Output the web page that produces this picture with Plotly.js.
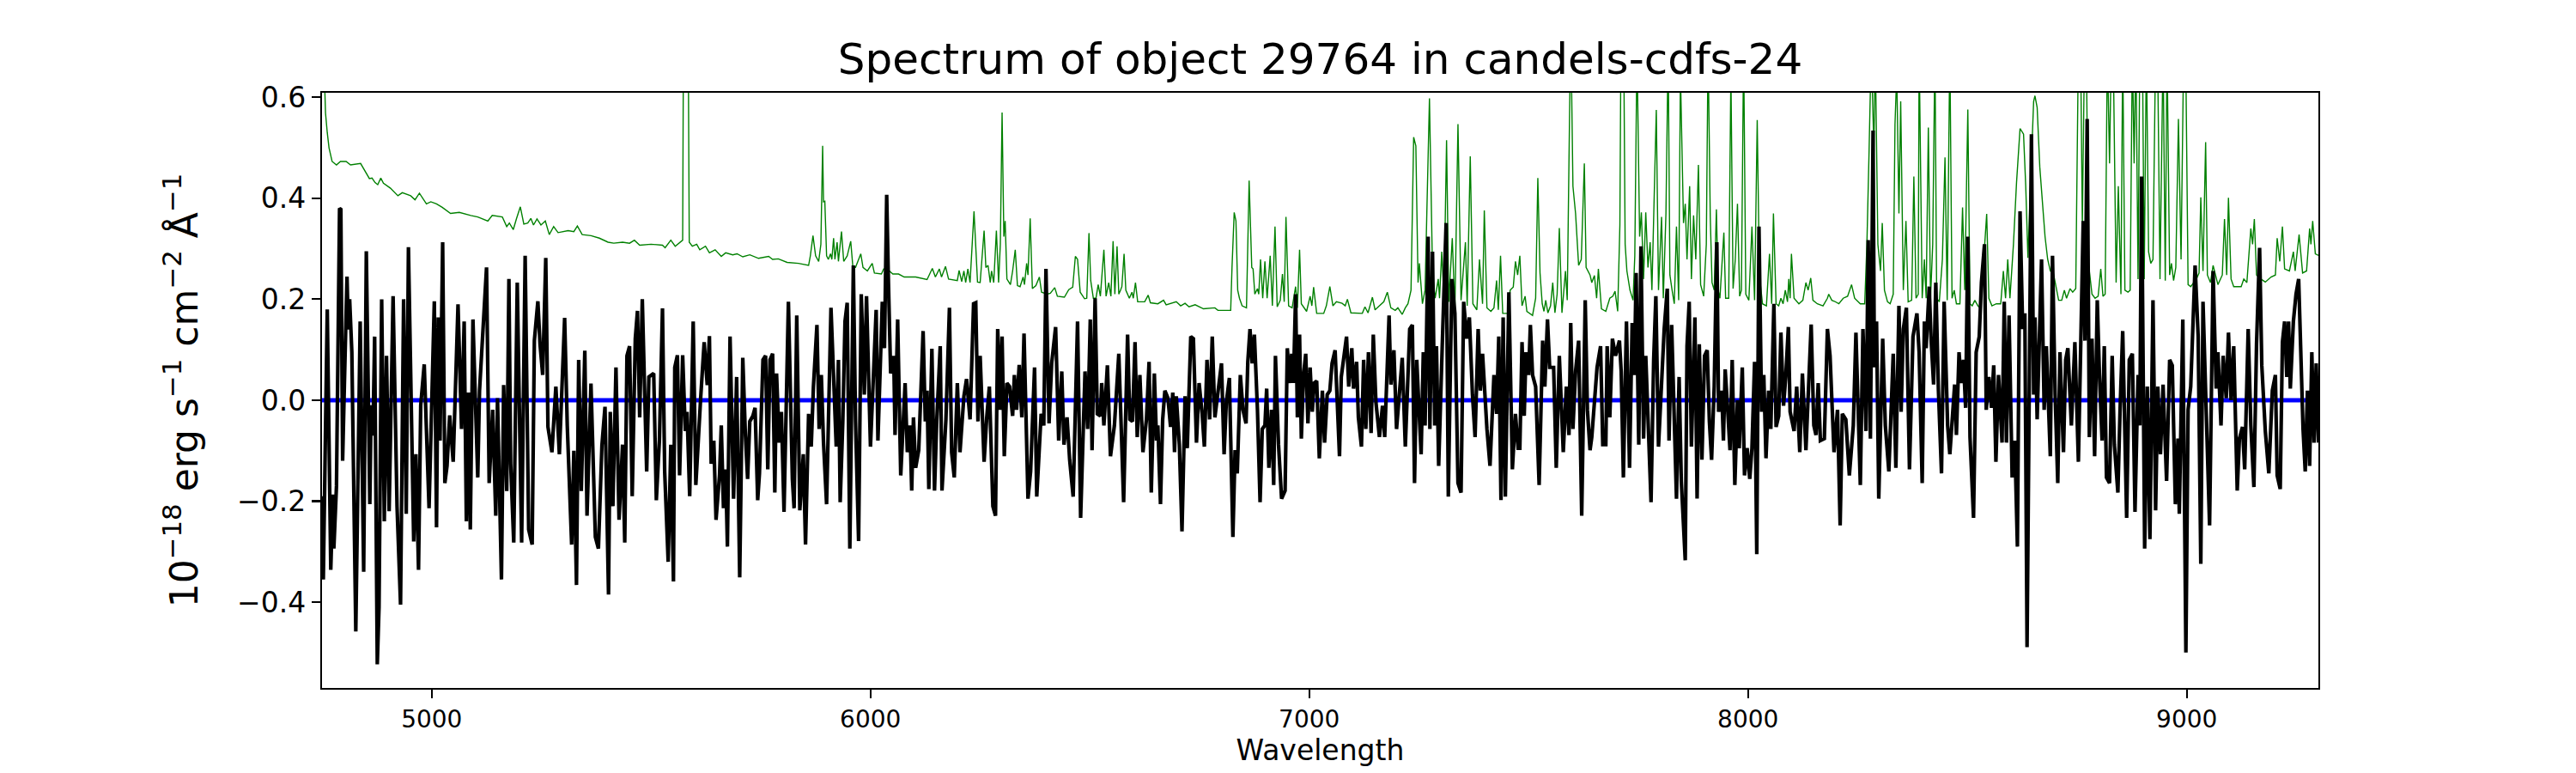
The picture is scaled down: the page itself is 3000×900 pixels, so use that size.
<!DOCTYPE html>
<html>
<head>
<meta charset="utf-8">
<script src="https://cdn.plot.ly/plotly-3.0.1.min.js"></script>
<style>html,body{margin:0;padding:0;background:#fff;}#chart{width:3000px;height:900px;}</style>
</head>
<body>
<div id="chart"></div>
<script>
// Observed spectrum (black): wavelength [Angstrom] and flux [1e-18 erg/s/cm2/A]
const fluxWave = [
4750,4753,4762,4770,4775,4777,4783,4790,4793,4797,4801,4807,4810,4813,4818,4827,4837,4845,4851,4859,4862,4866,4870,4876,4880,4886,4892,4897,4903,4912,4921,4929,4936,4942,4947,4953,4959,4964,4970,4975,4983,4994,5006,5011,5015,5019,5025,5030,5035,5041,5049,5060,5068,5074,5079,5084,5088,5094,5105,5109,5115,5125,5131,5139,5146,5150,5159,5164,5171,5176,5180,5187,5195,5205,5213,5221,5229,5234,5242,5247,5253,5260,5265,5274,5283,5291,5303,5309,5319,5324,5330,5335,5341,5349,5354,5363,5373,5380,5388,5395,5403,5407,5413,5420,5427,5435,5440,5445,5451,5457,5464,5469,5474,5480,5490,5495,5506,5512,5519,5526,5531,5539,5545,5551,5554,5560,5565,5572,5578,5582,5588,5596,5602,5607,5613,5621,5628,5633,5637,5643,5648,5656,
5660,5665,5670,5674,5680,5688,5695,5702,5709,5715,5720,5725,5732,5737,5743,5747,5755,5761,5766,5771,5777,5782,5786,5792,5797,5803,5813,5822,5826,5832,5839,5847,5852,5859,5865,5870,5878,5883,5888,5893,5900,5910,5922,5927,5931,5937,5942,5947,5953,5961,5966,5973,5979,5986,5991,6000,6006,6013,6017,6022,6027,6032,6037,6041,6046,6053,6056,6062,6069,6079,6084,6090,6094,6098,6103,6110,6120,6125,6129,6133,6140,6146,6151,6159,6163,6172,6180,6185,6191,6198,6204,6213,6219,6227,6235,6240,6245,6250,6259,6265,6271,6279,6285,6290,6296,6300,6305,6311,6317,6324,6328,6333,6339,6345,6350,6359,6365,6374,6379,6389,6395,6400,6407,6413,6422,6429,6436,6441,6448,6454,6462,6472,6479,6489,6495,6501,6505,6512,6517,6524,6527,6532,6540,6547,6556,6566,
6577,6586,6591,6597,6603,6608,6614,6621,6629,6635,6640,6647,6652,6655,6661,6666,6671,6678,6684,6689,6693,6697,6704,6710,6717,6722,6730,6736,6743,6749,6756,6761,6767,6773,6779,6785,6792,6800,6806,6811,6818,6826,6831,6836,6843,6849,6856,6860,6865,6870,6875,6882,6888,6893,6899,6903,6908,6914,6919,6923,6930,6937,6945,6950,6956,6960,6964,6969,6973,6978,6982,6987,6992,6997,7002,7007,7011,7017,7023,7030,7035,7041,7047,7052,7059,7064,7069,7073,7080,7085,7090,7097,7101,7108,7112,7119,7124,7129,7135,7141,7146,7152,7160,7167,7172,7182,7186,7193,7199,7206,7212,7219,7229,7235,7240,7245,7255,7260,7264,7271,7275,7281,7286,7290,7295,7303,7312,7317,7325,7332,7339,7346,7352,7359,7365,7372,7378,7385,7390,7395,7405,7412,7421,7427,7432,7437,7442,7447,7455,7463,7470,7476,
7480,7485,7490,7494,7500,7504,7509,7516,7524,7532,7537,7543,7548,7557,7563,7570,7575,7579,7586,7592,7596,7601,7607,7614,7621,7629,7634,7640,7644,7650,7656,7664,7669,7676,7679,7685,7691,7698,7707,7711,7716,7723,7730,7736,7741,7745,7751,7756,7762,7767,7772,7779,7785,7790,7796,7803,7809,7816,7820,7826,7830,7837,7843,7848,7857,7861,7866,7871,7879,7884,7889,7895,7901,7907,7912,7917,7923,7929,7933,7940,7944,7948,7954,7959,7964,7970,7976,7980,7987,7992,7998,8004,8009,8015,8020,8025,8031,8036,8041,8047,8052,8059,8064,8070,8075,8081,8086,8092,8096,8105,8111,8118,8124,8132,8139,8144,8150,8155,8160,8165,8174,8181,8187,8196,8204,8210,8215,8223,8231,8240,8246,8256,8262,8269,8274,8279,8285,8288,8293,8298,8307,8313,8321,8331,8337,8344,8349,8354,8361,8368,8376,8385,
8390,8397,8402,8406,8413,8417,8423,8428,8434,8441,8447,8455,8460,8465,8471,8475,8481,8486,8491,8496,8501,8506,8514,8520,8527,8532,8539,8543,8549,8555,8560,8565,8571,8579,8584,8589,8595,8602,8608,8614,8620,8626,8631,8636,8641,8646,8651,8654,8659,8664,8669,8675,8680,8689,8694,8700,8706,8711,8719,8724,8729,8737,8745,8753,8758,8764,8768,8773,8778,8784,8790,8796,8801,8807,8812,8817,8824,8830,8835,8843,8848,8854,8863,8869,8876,8882,8889,8893,8897,8904,8910,8916,8923,8929,8934,8940,8946,8954,8961,8967,8974,8980,8983,8991,8998,9003,9009,9019,9026,9032,9037,9045,9052,9060,9067,9071,9078,9083,9090,9095,9101,9107,9115,9120,9127,9132,9140,9146,9153,9159,9166,9171,9179,9187,9195,9202,9206,9213,9218,9223,9228,9232,9236,9243,9249,9255,9260,9265,9270,9275,9280,9285,9290,9295,9300
];
const fluxValue = [
-0.19,-0.355,0.18,-0.336,-0.187,-0.294,-0.17,0.38,0.378,-0.12,0.03,0.245,0.14,0.2,0.095,-0.458,0.156,-0.34,0.295,-0.206,-0.01,-0.07,0.126,-0.523,-0.41,0.2,-0.24,0.088,-0.22,0.206,-0.21,-0.405,0.2,-0.225,0.303,0.05,-0.28,-0.107,-0.336,-0.01,0.071,-0.214,0.196,-0.252,0.164,-0.08,0.313,-0.164,-0.13,-0.03,-0.122,0.19,-0.057,0.156,-0.24,0.015,-0.256,0.16,-0.153,0.019,0.103,0.263,-0.164,-0.019,-0.229,0.004,-0.355,0.03,-0.18,0.24,-0.126,-0.282,0.233,-0.282,0.286,-0.256,-0.286,0.118,0.196,0.11,0.05,0.282,-0.053,-0.103,0.027,-0.107,0.163,-0.05,-0.286,-0.1,-0.366,0.08,-0.18,0.098,-0.229,0.033,-0.271,-0.294,-0.089,-0.013,-0.385,-0.023,-0.21,0.065,-0.237,-0.088,-0.282,0.088,0.107,-0.19,0.122,0.177,-0.034,0.2,-0.141,0.046,0.053,-0.198,-0.08,0.182,-0.141,-0.32,-0.088,-0.359,0.065,0.089,-0.149,0.089,-0.061,-0.023,-0.19,0.156,-0.168,-0.076,0.004,0.115,0.03,0.127,-0.126,-0.08,-0.237,-0.149,
-0.05,-0.214,-0.137,-0.29,0.126,-0.195,0.046,-0.351,0.084,-0.069,-0.156,-0.042,-0.031,-0.015,-0.198,-0.145,0.08,0.088,-0.137,0.08,0.092,-0.183,0.053,-0.084,-0.023,-0.221,0.195,-0.156,-0.214,0.168,-0.218,-0.107,-0.286,-0.027,-0.092,0.027,0.149,-0.057,0.05,-0.084,-0.206,0.183,-0.092,0.08,-0.202,-0.042,0.156,0.193,-0.294,0.267,-0.042,-0.279,0.21,0.011,0.206,-0.092,0.038,0.179,-0.08,0.057,0.195,0.103,0.407,0.233,0.053,0.088,-0.069,0.16,-0.149,0.034,-0.103,-0.05,-0.179,-0.034,-0.134,-0.099,0.137,-0.042,0.019,-0.176,0.102,-0.179,-0.042,0.107,-0.179,-0.038,0.183,-0.103,-0.153,0.034,-0.103,0.008,0.042,-0.038,0.191,0.193,-0.042,0.088,-0.122,-0.034,0.027,-0.21,-0.229,0.141,-0.019,0.126,-0.111,0.034,0.027,-0.031,0.05,-0.019,0.07,-0.034,0.132,-0.195,-0.141,0.065,-0.191,-0.027,-0.05,0.26,-0.046,0.073,0.145,-0.08,0.057,-0.088,-0.034,-0.118,-0.191,0.156,-0.233,0.057,-0.057,0.16,-0.099,0.202,-0.027,-0.031,0.034,-0.05,0.069,-0.111,-0.05,0.092,
-0.202,0.13,-0.038,-0.042,0.115,-0.073,0.05,-0.103,-0.038,0.076,-0.183,0.053,-0.08,-0.05,-0.206,-0.038,0.019,0.004,-0.053,0.015,-0.103,0.008,-0.088,-0.26,0.008,-0.095,0.126,0.122,-0.084,0.034,-0.027,-0.092,0.08,-0.038,0.126,-0.034,0.011,0.073,-0.107,-0.004,0.044,-0.271,-0.099,-0.145,0.05,-0.019,-0.046,0.076,0.141,0.073,0.13,-0.019,-0.202,-0.057,-0.05,0.023,-0.134,-0.019,-0.168,0.088,-0.088,-0.195,-0.179,0.103,0.034,0.092,0.034,0.21,-0.034,0.13,-0.076,0.05,0.092,-0.046,0.065,-0.023,0.034,0.038,-0.115,0.019,-0.084,0.011,0.019,0.073,0.099,-0.015,-0.111,0.046,0.088,0.126,0.027,0.103,0.023,0.076,-0.034,-0.092,0.08,-0.057,0.095,-0.065,0.13,-0.004,-0.073,-0.011,-0.073,0.168,0.031,0.099,-0.057,0.019,0.084,-0.092,0.141,0.149,-0.164,0.08,-0.107,0.095,-0.05,0.324,-0.057,0.294,-0.05,0.107,-0.13,0.103,0.351,-0.191,0.24,0.172,-0.164,-0.183,0.195,0.122,0.164,0.011,-0.073,0.141,0.019,0.092,-0.057,-0.13,0.05,-0.027,0.126,-0.198,0.164,-0.191,0.214,-0.137,-0.027,-0.095,
-0.095,0.115,-0.031,0.095,0.05,0.149,0.05,0.027,-0.168,0.118,0.027,0.16,0.065,0.065,-0.134,0.088,-0.042,-0.103,0.027,-0.069,0.153,-0.057,0.057,0.118,-0.229,0.198,-0.019,-0.099,-0.073,0.004,0.065,0.107,-0.088,-0.088,0.107,-0.034,0.122,0.088,0.118,0.057,-0.153,0.156,-0.134,0.153,0.05,0.252,-0.088,0.305,-0.076,0.088,-0.05,-0.202,0.08,0.206,-0.092,0.034,0.141,0.221,-0.08,0.149,0.034,-0.195,0.046,-0.16,-0.317,0.107,0.195,-0.092,0.164,-0.195,0.111,-0.118,0.088,0.099,-0.042,-0.118,0.027,0.313,-0.023,0.019,-0.08,0.061,-0.023,-0.099,0.08,-0.168,0,-0.095,0.065,-0.149,-0.095,-0.156,-0.095,0.076,-0.305,0.344,-0.023,0.05,-0.115,0.019,-0.057,0.191,-0.053,-0.031,0.134,-0.011,0.046,0.145,-0.023,-0.061,0.027,-0.103,0.053,-0.099,0.046,0.15,-0.05,-0.069,0.034,-0.08,-0.076,0.141,0.088,-0.103,-0.019,-0.248,-0.027,-0.038,-0.149,-0.05,0.134,-0.168,0.141,-0.061,0.317,-0.076,0.534,0.065,0.156,-0.195,0.122,-0.05,-0.141,0.092,-0.134,0.187,-0.023,0.141,0.183,-0.137,0.126,0.172,
0.095,-0.164,0.156,0.103,0.225,0.126,0.031,0.233,0.019,-0.145,0.195,-0.05,-0.107,-0.05,0.031,-0.069,0.095,0.034,0.08,-0.015,0.324,-0.073,-0.233,0.095,0.126,0.233,0.309,-0.019,0.046,-0.015,0.069,-0.122,0.05,-0.084,0.195,-0.084,0.168,-0.153,-0.08,-0.29,0.374,0.141,0.172,-0.489,0.065,0.527,0.011,0.164,-0.038,0.153,0.279,-0.019,0.107,-0.111,0.286,0.011,-0.164,0.095,-0.103,0.08,0.103,-0.05,0.115,-0.122,0.073,0.355,0.118,0.557,-0.073,0.122,-0.111,0.198,0.05,-0.08,0.107,-0.153,-0.164,0.088,-0.088,-0.183,-0.019,0.137,-0.233,0.08,0.092,-0.221,0.05,-0.05,0.443,-0.294,0.027,-0.275,0.198,-0.218,0.027,-0.107,0.031,-0.16,0.08,0.069,-0.206,-0.076,-0.225,0.16,-0.5,-0.019,0.027,0.267,0.126,-0.324,0.195,-0.031,-0.248,0.256,0.023,0.095,-0.05,0.088,0.004,0.134,0,0.107,-0.179,-0.076,-0.053,-0.137,0.141,-0.05,-0.172,0.111,0.302,0.069,-0.061,-0.145,0.019,0.05,-0.149,-0.176,0.115,0.156,0.046,0.156,0.023,0.156,0.21,0.24,0.073,-0.057,-0.141,0.019,-0.13,0.095,-0.084,0.073,-0.084
];

// Noise / sky spectrum (green)
const skyWave = [
4750,4758,4762,4766,4773,4783,4792,4805,4815,4838,4858,4864,4871,4877,4884,4890,4906,4923,4933,4952,4962,4972,4988,4998,5011,5024,5043,5063,5089,5105,5128,5138,5161,5171,5177,5186,5193,5202,5210,5219,5226,5232,5240,5249,5259,5268,5278,5288,5311,5324,5332,5343,5363,5382,5402,5415,5435,5451,5462,5474,5500,5526,5532,5545,5555,5566,5572,5575,5583,5587,5594,5604,5611,5624,5633,5646,5660,
5670,5686,5696,5709,5725,5745,5768,5777,5790,5810,5836,5859,5863,5869,5875,5882,5887,5891,5893,5896,5900,5904,5909,5912,5916,5919,5924,5927,5934,5939,5947,5955,5960,5966,5978,5983,5993,6004,6009,6025,6030,6038,6051,6064,6077,6103,6129,6136,6141,6148,6157,6162,6171,6178,6198,6202,6208,6213,6217,6222,6227,6236,6244,6250,6259,6263,6268,6273,6276,6281,6287,6292,6296,6300,6304,6307,6311,6319,6324,6330,6335,6341,6348,6351,6356,6359,6364,6369,6377,6385,6390,6403,6410,6420,6426,6442,6452,6461,6467,6472,6478,6488,6493,6498,6502,6508,6514,6519,6524,6532,6537,6543,6548,6553,6557,6562,6566,
6570,6573,6578,6582,6590,6596,6599,6604,6609,6625,6633,6638,6655,6668,6674,6697,6707,6717,6726,6740,6759,6785,6792,6821,6824,6829,6833,6837,6841,6847,6857,6863,6869,6872,6876,6882,6885,6889,6894,6899,6904,6911,6916,6922,6927,6934,6939,6943,6947,6953,6961,6969,6973,6978,6982,6994,7002,7006,7010,7017,7033,7039,7047,7054,7062,7075,7082,7087,7095,7121,7127,7134,7144,7150,7160,7170,7178,7186,7196,7202,7212,7219,7225,7232,7238,7243,7248,7251,7258,7264,7274,7281,7287,7294,7297,7302,7307,7313,7318,7326,7332,7339,7346,7356,7360,7367,7373,7382,7388,7395,7399,7405,7414,7421,7427,7431,7436,7441,7453,7458,7465,7470,7475,7480,
7485,7492,7496,7509,7516,7521,7526,7531,7535,7539,7544,7550,7555,7560,7565,7570,7576,7584,7588,7592,7596,7601,7607,7614,7620,7627,7631,7640,7644,7650,7655,7659,7666,7676,7685,7692,7697,7703,7708,7711,7716,7720,7724,7731,7738,7742,7747,7753,7757,7762,7767,7772,7777,7781,7786,7791,7796,7803,7807,7813,7818,7822,7827,7832,7837,7842,7846,7853,7857,7861,7867,7871,7876,7881,7887,7892,7899,7905,7909,7914,7918,7923,7928,7932,7936,7945,7949,7956,7961,7966,7971,7976,7981,7985,7990,7995,8002,8009,8015,8021,8026,8033,8042,8049,8054,8058,8064,8070,8075,8080,8085,8090,8093,8096,8099,8105,8116,8125,8132,8137,8143,8148,8158,8171,8181,8184,8191,8197,8207,8217,8227,8236,8243,8256,8266,8271,8276,8281,8287,8290,8296,8302,8306,8311,8318,8324,8331,8335,8339,8344,8348,8354,8360,8365,8373,8378,8383,8388,
8390,8397,8402,8406,8411,8416,8421,8426,8430,8436,8443,8449,8454,8460,8465,8470,8475,8483,8489,8494,8501,8506,8511,8517,8524,8528,8535,8540,8544,8549,8556,8566,8576,8582,8587,8592,8597,8605,8612,8620,8628,8633,8638,8643,8648,8651,8654,8659,8665,8672,8677,8683,8689,8696,8702,8708,8715,8721,8726,8734,8740,8747,8753,8758,8762,8767,8771,8776,8784,8791,8798,8804,8809,8814,8819,8824,8828,8833,8839,8844,8850,8854,8859,8866,8871,8876,8880,8884,8889,8893,8899,8903,8908,8913,8918,8923,8929,8934,8939,8946,8951,8955,8961,8965,8970,8975,8981,8987,8993,8998,9003,9009,9016,9022,9028,9032,9037,9043,9047,9054,9060,9065,9071,9081,9086,9091,9095,9101,9107,9124,9130,9137,9143,9146,9150,9154,9159,9169,9179,9192,9202,9206,9212,9218,9223,9234,9243,9247,9256,9264,9273,9280,9283,9287,9293,9302
];
const skyValue = [
0.8,0.569,0.53,0.5,0.473,0.466,0.473,0.473,0.466,0.469,0.439,0.44,0.431,0.427,0.44,0.43,0.42,0.405,0.411,0.405,0.397,0.41,0.389,0.393,0.389,0.382,0.37,0.372,0.366,0.363,0.355,0.366,0.363,0.344,0.351,0.338,0.359,0.383,0.349,0.351,0.36,0.347,0.359,0.347,0.355,0.328,0.344,0.332,0.336,0.334,0.345,0.328,0.326,0.321,0.313,0.311,0.313,0.311,0.317,0.307,0.309,0.307,0.302,0.317,0.305,0.313,0.317,1.0,1.0,0.313,0.305,0.309,0.298,0.305,0.292,0.298,0.285,
0.292,0.288,0.29,0.284,0.288,0.281,0.285,0.279,0.28,0.273,0.271,0.267,0.286,0.326,0.286,0.275,0.309,0.504,0.393,0.394,0.286,0.279,0.29,0.279,0.321,0.279,0.313,0.275,0.334,0.275,0.286,0.315,0.263,0.263,0.29,0.263,0.256,0.271,0.252,0.25,0.26,0.26,0.25,0.25,0.244,0.244,0.239,0.252,0.261,0.244,0.26,0.244,0.265,0.24,0.237,0.257,0.235,0.256,0.233,0.26,0.233,0.374,0.234,0.233,0.336,0.263,0.267,0.233,0.256,0.233,0.336,0.233,0.309,0.57,0.324,0.355,0.24,0.229,0.256,0.298,0.227,0.225,0.244,0.229,0.271,0.248,0.36,0.221,0.227,0.244,0.214,0.21,0.212,0.223,0.206,0.204,0.219,0.224,0.285,0.279,0.214,0.201,0.202,0.331,0.237,0.202,0.202,0.229,0.206,0.298,0.206,0.233,0.206,0.315,0.21,0.305,0.21,
0.218,0.225,0.29,0.218,0.202,0.214,0.202,0.233,0.195,0.195,0.208,0.193,0.191,0.198,0.189,0.195,0.187,0.192,0.185,0.189,0.181,0.183,0.178,0.178,0.263,0.372,0.355,0.218,0.202,0.187,0.183,0.435,0.263,0.26,0.21,0.221,0.21,0.279,0.202,0.275,0.202,0.286,0.187,0.344,0.185,0.198,0.25,0.195,0.363,0.187,0.183,0.225,0.183,0.298,0.191,0.176,0.206,0.187,0.224,0.172,0.172,0.187,0.225,0.187,0.195,0.192,0.187,0.2,0.173,0.172,0.185,0.173,0.204,0.179,0.187,0.195,0.214,0.183,0.178,0.183,0.17,0.183,0.191,0.218,0.521,0.504,0.233,0.271,0.191,0.218,0.598,0.252,0.202,0.24,0.202,0.294,0.202,0.515,0.195,0.321,0.179,0.547,0.198,0.313,0.187,0.483,0.191,0.179,0.279,0.191,0.376,0.183,0.176,0.183,0.237,0.179,0.286,0.172,0.172,0.218,0.224,0.275,0.248,0.286,
0.187,0.206,0.176,0.168,0.202,0.44,0.252,0.191,0.176,0.198,0.173,0.187,0.233,0.173,0.21,0.341,0.173,0.256,0.198,0.424,0.75,0.424,0.37,0.267,0.279,0.469,0.263,0.248,0.233,0.247,0.202,0.26,0.181,0.176,0.202,0.206,0.216,0.176,0.347,0.8,0.8,0.309,0.256,0.218,0.198,0.286,0.7,0.324,0.372,0.24,0.372,0.263,0.313,0.218,0.385,0.575,0.218,0.363,0.202,0.37,0.7,0.248,0.218,0.191,0.344,0.198,0.65,0.351,0.389,0.279,0.424,0.24,0.366,0.279,0.466,0.229,0.206,0.309,0.7,0.363,0.233,0.218,0.378,0.218,0.202,0.332,0.202,0.202,0.65,0.221,0.279,0.389,0.206,0.218,0.7,0.21,0.198,0.344,0.198,0.555,0.248,0.191,0.187,0.29,0.191,0.37,0.191,0.187,0.202,0.191,0.218,0.195,0.24,0.202,0.29,0.202,0.191,0.198,0.233,0.218,0.242,0.198,0.191,0.187,0.202,0.21,0.198,0.196,0.191,0.202,0.206,0.229,0.202,0.191,0.191,0.309,0.496,0.7,0.492,0.7,0.309,0.256,0.351,0.218,0.195,0.191,0.21,0.546,0.65,0.37,0.592,0.218,0.355,0.195,0.198,0.443,0.202,0.21,
0.7,0.202,0.279,0.202,0.54,0.202,0.309,0.7,0.202,0.195,0.279,0.481,0.198,0.7,0.202,0.218,0.191,0.191,0.382,0.218,0.576,0.191,0.187,0.198,0.187,0.183,0.248,0.309,0.369,0.202,0.187,0.191,0.191,0.256,0.202,0.279,0.202,0.309,0.431,0.538,0.527,0.424,0.282,0.408,0.542,0.592,0.603,0.58,0.462,0.378,0.324,0.279,0.256,0.252,0.225,0.198,0.198,0.218,0.202,0.221,0.214,0.221,0.7,0.7,0.347,0.7,0.7,0.271,0.21,0.202,0.206,0.26,0.206,0.21,0.7,0.469,0.7,0.65,0.233,0.424,0.21,0.7,0.218,0.214,0.218,0.7,0.469,0.7,0.24,0.7,0.7,0.24,0.7,0.294,0.271,0.279,0.7,0.65,0.24,0.7,0.237,0.7,0.248,0.271,0.237,0.263,0.557,0.279,0.7,0.65,0.229,0.225,0.233,0.24,0.252,0.402,0.256,0.511,0.248,0.233,0.267,0.248,0.229,0.248,0.359,0.248,0.401,0.24,0.225,0.225,0.24,0.233,0.302,0.34,0.309,0.359,0.248,0.24,0.234,0.244,0.248,0.321,0.275,0.344,0.26,0.256,0.294,0.256,0.328,0.252,0.256,0.34,0.309,0.355,0.29,0.286
];

// Model / zero level (blue)
const modelWave = [4750, 9300];
const modelValue = [0, 0];

const xTicks = [5000, 6000, 7000, 8000, 9000];
const yTicks = [-0.4, -0.2, 0.0, 0.2, 0.4, 0.6];
const titleText = 'Spectrum of object 29764 in candels-cdfs-24';
const xLabel = 'Wavelength';
const yLabel = '10<sup>\u221218</sup> erg s<sup>\u22121</sup> cm<sup>\u22122</sup> \u00c5<sup>\u22121</sup>';

const FONT = 'DejaVu Sans, Liberation Sans, sans-serif';

const traces = [
  {x: skyWave, y: skyValue, type: 'scatter', mode: 'lines', line: {color: '#008000', width: 1.4}, hoverinfo: 'skip'},
  {x: modelWave, y: modelValue, type: 'scatter', mode: 'lines', line: {color: '#0000ff', width: 5}, hoverinfo: 'skip'},
  {x: fluxWave, y: fluxValue, type: 'scatter', mode: 'lines', line: {color: '#000000', width: 4.2}, hoverinfo: 'skip'}
];

const layout = {
  width: 3000, height: 900,
  margin: {l: 375, r: 300, t: 108, b: 99, pad: 0},
  paper_bgcolor: '#ffffff', plot_bgcolor: '#ffffff',
  showlegend: false,
  font: {family: FONT, color: '#000000', size: 28},
  title: {text: titleText, font: {family: FONT, size: 50, color: '#000000'},
          xref: 'paper', x: 0.5, xanchor: 'center', yref: 'container', y: 0.924, yanchor: 'middle'},
  xaxis: {
    range: [4750, 9300], tickvals: xTicks, ticktext: xTicks.map(String),
    ticks: 'outside', ticklen: 10, tickwidth: 2.2, tickcolor: '#000',
    showline: true, linecolor: '#000', linewidth: 2.2, mirror: true,
    showgrid: false, zeroline: false,
    tickfont: {family: FONT, size: 28, color: '#000'},
    title: {text: xLabel, font: {family: FONT, size: 33, color: '#000'}, standoff: 8}
  },
  yaxis: {
    range: [-0.57, 0.609], tickvals: yTicks, tickformat: '.1f',
    ticks: 'outside', ticklen: 10, tickwidth: 2.2, tickcolor: '#000',
    showline: true, linecolor: '#000', linewidth: 2.2, mirror: true,
    showgrid: false, zeroline: false,
    tickfont: {family: FONT, size: 33, color: '#000'},
    title: {text: yLabel, font: {family: FONT, size: 44, color: '#000'}, standoff: 32}
  }
};

Plotly.newPlot('chart', traces, layout, {displayModeBar: false, staticPlot: true});
</script>
</body>
</html>
